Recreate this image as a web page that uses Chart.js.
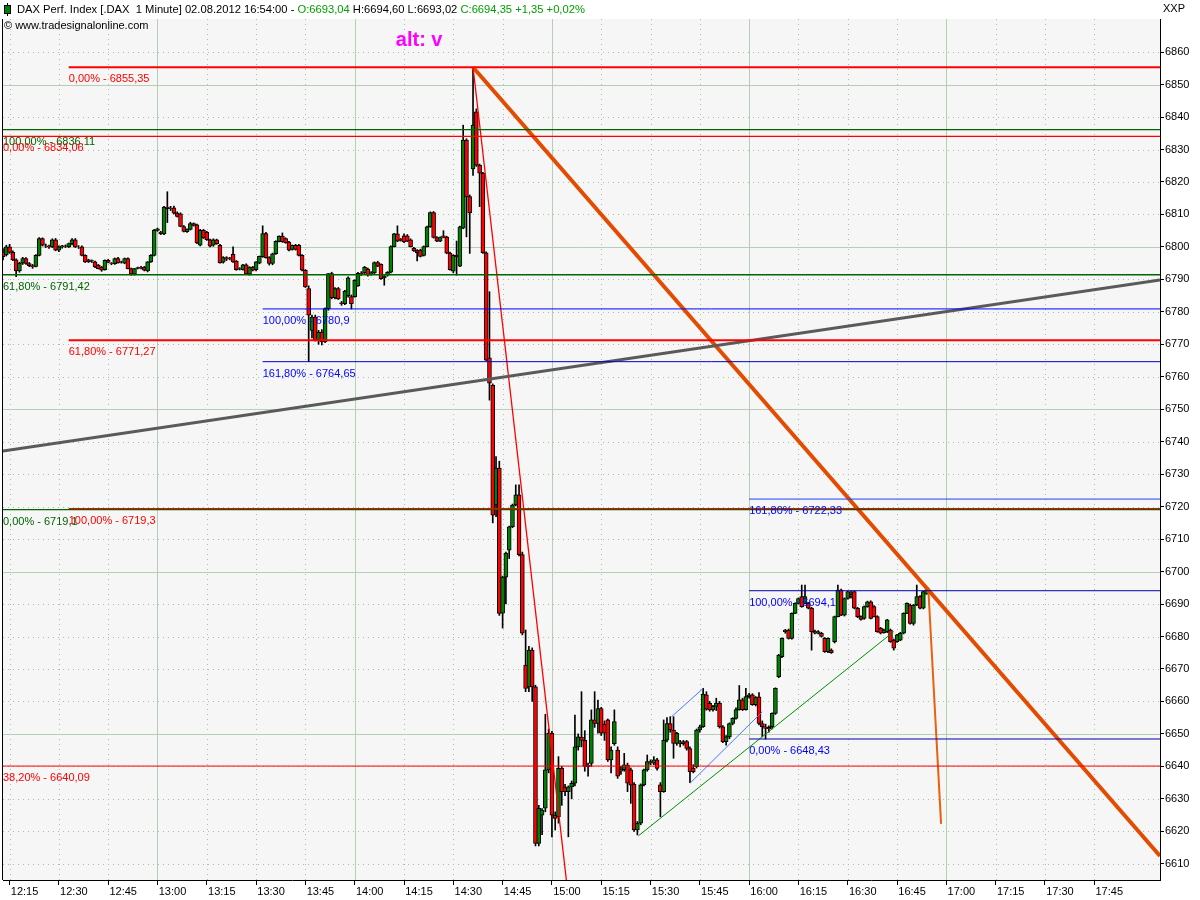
<!DOCTYPE html>
<html>
<head>
<meta charset="utf-8">
<script src="https://cdn.jsdelivr.net/npm/chart.js@4.4.0/dist/chart.umd.min.js"></script>
<style>
  html, body { margin: 0; padding: 0; background: #fff; }
  #wrap { width: 1200px; height: 900px; }
</style>
</head>
<body>
<div id="wrap"><canvas id="stats" width="1200" height="900"></canvas></div>
<script>
// first bar is 12:13, one bar per minute
var firstBar = "12:13";

// [open, high, low, close]
var ohlc = [
  // 12:13
  [6798.5,6799.5,6796,6797],[6797.5,6800.5,6797.2,6800],[6800,6800.8,6798,6798.3],[6798.3,6798.8,6795.8,6796],
  [6796,6796.3,6790.8,6792.6],[6792.6,6795.3,6792.2,6795],[6795,6796.8,6794.6,6796.4],[6796.4,6796.7,6794.6,6794.9],
  [6794.9,6795.2,6793.9,6794.2],[6794.2,6794.6,6793.4,6793.8],[6794,6797.6,6793.8,6797.4],[6797.4,6802.9,6797.2,6802.6],
  [6802.6,6802.8,6800.3,6800.5],[6800.3,6800.9,6799.8,6800.2],[6800.2,6800.6,6799.5,6800],[6800,6802.5,6799.8,6802.2],
  [6802.2,6802.6,6798.8,6799],[6799,6800.3,6798.5,6800],[6800,6800.5,6799.6,6800.3],[6800.3,6800.6,6799.8,6800.2],
  [6800,6801.2,6799.8,6801],[6801,6802.6,6800.6,6802.2],[6802.2,6802.6,6799.8,6800],[6800,6800.4,6799.5,6800],
  [6800,6800.3,6797.2,6797.4],[6797.4,6797.6,6795.2,6795.4],[6796,6796.2,6795.2,6795.4],[6795.6,6796,6795.2,6795.8],
  [6795.4,6795.6,6793.6,6793.8],[6794.4,6794.6,6793.2,6793.3],[6793.8,6794,6792.5,6792.8],[6793,6796,6792.8,6795.9],
  [6795.9,6796.2,6795.1,6795.2],[6794.9,6795.2,6794.5,6794.8],[6794.8,6796.6,6794.6,6796.4],[6796.4,6796.8,6795,6795.1],
  [6795.3,6795.6,6795,6795.4],[6795,6796.6,6794.8,6796.4],[6796.4,6796.6,6793.2,6793.3],[6793.3,6793.5,6791.3,6791.6],
  [6791.6,6793.4,6791.3,6793.3],[6793.4,6793.8,6793.2,6793.6],[6793.6,6794,6793.2,6793.5],[6793.8,6794,6792.6,6792.8],
  [6792.6,6795.5,6792.3,6795.4],[6795.4,6797.6,6795.2,6797.4],[6797.4,6805.4,6797.2,6805.2],
  // 13:00
  [6805.1,6805.8,6804.8,6805.6],[6804.6,6804.8,6803.8,6804],[6804,6812.5,6803.8,6812.3],[6812.3,6817,6807.5,6811.8],
  [6811.8,6812.5,6811.2,6811.9],[6812,6812.6,6810.2,6810.4],[6810.4,6810.8,6809.2,6809.4],[6810.2,6810.5,6806.2,6806.3],
  [6806.3,6806.6,6804.6,6804.8],[6804.7,6805.6,6804.5,6805.4],[6805.4,6807.6,6805.2,6807.2],[6807.2,6807.4,6806.4,6806.6],
  [6806.8,6807,6801,6801.2],[6800.5,6805.4,6800.3,6805.1],[6805.1,6805.4,6802.6,6802.8],[6804.5,6804.8,6802,6802.2],
  [6802.2,6802.4,6800,6800.2],[6800.5,6802.5,6800.2,6802.2],[6802.2,6802.4,6800.8,6801],[6800.5,6800.8,6795,6795.1],
  [6795.3,6797,6795,6796.7],[6796.7,6797,6795.8,6796.2],[6796.5,6796.8,6796,6796.4],[6797.7,6800,6795.2,6795.4],
  [6795.6,6795.8,6792.8,6793],[6793.2,6793.6,6792.9,6793.3],[6793,6794.6,6792.8,6794.5],[6794.5,6794.8,6791.5,6791.6],
  [6791.6,6793.9,6791.3,6793.8],[6793.8,6794,6792.6,6792.8],[6793,6795.5,6792.6,6795.4],[6795,6797.2,6794.8,6797.1],
  [6797,6806.5,6796.8,6804.1],[6804.1,6804.5,6796.5,6796.7],[6796.7,6797,6794.4,6794.9],[6794.9,6798.1,6794.5,6797.9],
  [6797.9,6801.9,6797.7,6801.7],[6801.7,6803.4,6801.5,6803.3],[6803.3,6804.3,6801.4,6801.6],[6802.6,6802.8,6801.1,6801.3],
  [6801.5,6801.7,6798.8,6799],[6799.2,6800.6,6799,6800.5],[6800.5,6800.8,6799,6799.2],[6800.5,6800.8,6797.2,6797.4],
  [6797.4,6797.6,6792.6,6792.8],[6792.8,6793,6787.5,6787.7],[6787.2,6788,6764.65,6779],[6774.3,6779,6772,6778.4],
  [6778.4,6779,6771,6771.3],[6771.3,6774.3,6770,6773.8],[6773.8,6774.5,6769.8,6770.8],[6770.8,6781.2,6770.5,6781],
  [6781,6791.8,6780.5,6791.8],[6791.8,6792.2,6784,6784.4],[6784.4,6787.5,6784,6787.2],[6787.2,6787.5,6783.8,6784],
  [6782.8,6783.2,6782,6782.5],[6782.5,6786.6,6782.2,6786.4],[6785,6790.8,6784.5,6790.5],[6784.7,6785.2,6780.9,6782.5],
  [6784.7,6789.9,6784.5,6789.7],
  // 14:01
  [6788,6792.2,6787.8,6791.9],[6791.9,6792.4,6791.2,6791.5],[6792,6794,6791.8,6793.7],[6793.2,6793.5,6791,6791.3],
  [6791.5,6792.4,6791.3,6792],[6792,6795.4,6791.8,6795.2],[6795.2,6795.6,6793.9,6794.1],[6794.6,6794.8,6790,6790.2],
  [6790.5,6791.2,6788.2,6791],[6791.3,6792.4,6791,6792.2],[6792.2,6800.3,6792,6800.1],[6800.1,6804.2,6800,6804],
  [6804,6806.5,6801.6,6801.8],[6802.3,6802.6,6801.8,6802],[6803.4,6804,6801.3,6801.5],[6803.4,6803.8,6801.6,6801.8],
  [6802.2,6802.5,6800,6800.1],[6799.6,6799.9,6798.6,6798.8],[6798.9,6799.2,6795.7,6798.2],[6799,6799.3,6796.9,6797.1],
  [6797.4,6800.3,6797.2,6800.1],[6800.1,6806.4,6800,6806.2],[6806.2,6810.8,6806,6810.6],[6810.6,6810.9,6802.7,6802.9],
  [6802.9,6803.2,6801.6,6801.8],[6801.8,6803.1,6801.6,6802.9],[6803.4,6805,6802.8,6802.9],[6803,6803.3,6797.9,6798.1],
  [6798.1,6798.4,6792.8,6793],[6792.5,6797.6,6792,6797.4],[6797.4,6801.8,6791.3,6797],[6794.1,6806.4,6793.9,6806.2],
  [6805.8,6837.5,6805.6,6832.9],[6832.9,6833.3,6803.1,6815.4],[6815.5,6816,6798,6810.5],[6824,6855.35,6822,6837.5],
  [6841.6,6842.5,6824.8,6825.2],[6825.2,6825.5,6812.4,6822.7],[6822.7,6823,6798,6798.2],[6798.2,6798.5,6765,6765.1],
  [6765.8,6786.2,6752.8,6758],[6757.4,6757.8,6715,6717.4],[6720.5,6735.4,6716.9,6731.9],[6731.9,6734,6686.5,6687.1],
  [6687.2,6698.6,6682.6,6698.3],[6698.3,6706,6690,6705.7],[6706.6,6714,6704,6713.8],[6713.8,6720.8,6713.5,6720.5],
  [6720.5,6726.7,6720.2,6723.6],[6723.6,6726.7,6704.8,6705.2],[6705.2,6706,6680.5,6681],[6671.2,6682,6663,6664],
  [6664.5,6677,6663,6675.8],[6675.8,6676.5,6660,6664.5],[6664.5,6665,6615.5,6616.3],[6616.3,6628,6615.5,6627.1],
  [6625,6627,6619,6626.5],[6627.1,6656,6626,6638.9],[6638.9,6651.5,6638,6650.2],[6650.2,6650.8,6618.3,6625],
  // 15:01
  [6625,6626,6620.4,6624],[6624.5,6643,6622.5,6639.4],[6639.4,6640,6628,6632.2],[6633.5,6634.5,6631,6632.2],
  [6632.2,6634,6618.3,6633.7],[6633.7,6635.5,6630,6634.8],[6634.8,6655.8,6634,6646],[6646,6650,6645,6649.1],
  [6649,6663,6646,6648],[6648,6651,6638.5,6640],[6640.4,6641,6637,6639.9],[6640.9,6657.4,6640,6654.3],
  [6654.3,6663,6652,6653.2],[6653.2,6660.4,6650.2,6657.8],[6657.8,6658.2,6649.5,6650.2],[6653,6654,6648,6650.2],
  [6654.3,6654.6,6641.5,6642],[6642,6646,6638,6645],[6647,6657.4,6646.5,6653.8],[6645,6646,6636.3,6637],
  [6639,6640,6637.5,6638.5],[6639,6644,6638.5,6640.5],[6640.4,6641,6632.2,6634.8],[6638.9,6639.5,6628.6,6634.2],
  [6634.5,6635,6620,6620.4],[6620.4,6623,6618.9,6622.5],[6622.5,6634.6,6622,6634.3],[6634.3,6639.2,6634,6638.9],
  [6638.9,6643.5,6638.5,6641.5],[6641.5,6642,6640.5,6641],[6641,6643,6640.5,6642],[6642,6642.5,6638.8,6639.4],
  [6634.3,6635,6624.5,6632.2],[6632.2,6654.3,6632,6648.1],[6648.1,6655,6647.5,6653.2],[6653.2,6655.3,6650.5,6651.2],
  [6651.2,6655.3,6642.5,6647.1],[6647.1,6650.5,6646.5,6650.2],[6647.5,6648,6646,6647.1],[6647,6648,6646.5,6647.6],
  [6647.6,6648,6645,6645.5],[6645.5,6646,6635,6638.4],[6639.5,6640.5,6638,6638.4],[6639.9,6651.5,6639.5,6651.2],
  [6651.2,6652.7,6650.5,6652.2],[6652.2,6664,6652,6662.3],[6662,6663,6657.3,6657.6],[6659.4,6660,6657,6657.4],
  [6657.4,6658.8,6657,6658.5],[6658.5,6661,6657.2,6659.5],[6659.5,6660,6651.8,6652.2],[6652.2,6652.6,6647.3,6647.6],
  [6647.6,6649.5,6646.5,6649.1],[6649.1,6653.4,6648.5,6653.2],[6653.2,6655,6652.8,6654.8],[6654.8,6658,6654.5,6657.5],
  [6657.5,6664.9,6657.3,6660.5],[6660.5,6661,6657.2,6657.5],[6657.5,6664,6657.3,6661.5],[6661.5,6662.5,6661,6662],
  // 16:01
  [6662,6662.4,6658.8,6659],[6659,6661.5,6658.6,6661.2],[6661.4,6662.7,6652.8,6653.2],[6653.2,6654,6649.1,6652.2],
  [6652.2,6653,6648.43,6651.7],[6652,6652.5,6650.5,6651.5],[6652.2,6656.5,6651.5,6656.3],[6656.3,6664.2,6656,6664],
  [6667.6,6674.5,6667.3,6674.3],[6673.8,6679.6,6673.5,6679.4],[6681.5,6682.2,6681,6682],[6682,6682.3,6679.2,6679.4],
  [6679.4,6687.3,6679.2,6687.1],[6687.1,6690.4,6687,6690.2],[6690.2,6691.9,6690,6691.7],[6692.3,6695.85,6689,6689.2],
  [6690.2,6695.85,6690,6692.3],[6690.2,6690.5,6688.5,6688.7],[6688.7,6689,6675.8,6681.5],[6681.5,6682,6680.8,6681],
  [6681,6681.8,6680.8,6681.5],[6681,6681.3,6679.8,6680],[6679.4,6679.7,6675.1,6675.3],[6675.3,6679.6,6675,6679.4],
  [6675.8,6676.2,6674.8,6675],[6678.4,6686.3,6678,6686.1],[6686.1,6695.85,6686,6694.3],[6694.3,6694.6,6686.4,6686.6],
  [6686.6,6691.9,6686.3,6691.7],[6691.7,6693.9,6691.5,6693.8],[6693,6694,6691.8,6692.3],[6693.8,6694,6688.5,6688.7],
  [6688.7,6689,6685.8,6686.1],[6686.1,6686.4,6685,6685.3],[6685.6,6689.4,6685.3,6689.2],[6689.2,6690.9,6689,6690.7],
  [6690.7,6691,6685.4,6685.6],[6689.2,6689.5,6686,6686.1],[6686.1,6686.4,6681.3,6681.5],[6682.5,6682.8,6680.8,6681],
  [6681.2,6682.3,6681,6682],[6681.5,6685.3,6681.2,6685.1],[6682,6682.3,6678.2,6678.4],[6678.9,6679.2,6675.8,6676.4],
  [6678.4,6680.7,6678.2,6680.5],[6678.9,6681.3,6678.7,6681],[6681,6687.3,6680.8,6687.1],[6687.1,6690.4,6687,6690.2],
  [6689.7,6690,6683.8,6684],[6684,6689.9,6683.5,6689.7],[6689.7,6695.85,6689.5,6692.3],[6692.3,6692.6,6688.5,6688.7],
  [6688.7,6694,6688.5,6693.8],[6693.04,6694.6,6693.02,6694.35]
];

var timeTicks = ["12:15","12:30","12:45","13:00","13:15","13:30","13:45","14:00","14:15","14:30","14:45",
  "15:00","15:15","15:30","15:45","16:00","16:15","16:30","16:45","17:00","17:15","17:30","17:45"];

// retracement levels: price, start time, text
var levelPrice = [6855.35, 6836.11, 6834.06, 6791.42, 6780.9, 6771.27, 6764.65, 6719.1, 6719.3, 6722.33, 6694.1, 6648.43, 6640.09];
var levelFrom  = ["12:33", "12:13", "12:13", "12:13", "13:32", "12:33", "13:32", "12:13", "12:33", "16:00", "16:00", "16:00", "12:13"];
var levelText  = ["0,00% - 6855,35", "100,00% - 6836,11", "0,00% - 6834,06", "61,80% - 6791,42", "100,00% - 6780,9",
  "61,80% - 6771,27", "161,80% - 6764,65", "0,00% - 6719,1", "100,00% - 6719,3", "161,80% - 6722,33",
  "100,00% - 6694,1", "0,00% - 6648,43", "38,20% - 6640,09"];

// drawn trend lines: [time, price] pairs
var grayTrend   = [["12:13", 6737.1], ["18:05", 6789.8]];
var orangeTrend = [["14:36", 6855.35], ["18:05", 6612.4]];
var orangeTail  = [["16:54.5", 6695], ["16:58.4", 6622.3]];
var redDrop     = [["14:36", 6855.35], ["15:04.4", 6605]];
var blueUpper   = [["15:36.4", 6655.3], ["15:46", 6664]];
var blueLower   = [["15:42", 6634.8], ["16:04", 6656.8]];
var greenRise   = [["15:26.3", 6618.6], ["16:44", 6681.5]];

function toMin(s) { var p = s.split(":"); return +p[0] * 60 + parseFloat(p[1]); }
function fmt(m) { var h = Math.floor(m / 60), mm = Math.round(m % 60); return h + ":" + (mm < 10 ? "0" : "") + mm; }

var start = toMin(firstBar);
var wicks = ohlc.map(function (b, i) { return { x: start + i, y: [b[2], b[1]] }; });
var bodies = ohlc.map(function (b, i) { return { x: start + i, y: [b[0], b[3]] }; });
var bodyColors = ohlc.map(function (b) { return b[3] >= b[0] ? "#008000" : "#ff0000"; });

var levelStyle = [
  ["#ff0000", 2], ["#006400", 1.3], ["#ff0000", 1.3], ["#006400", 1.3], ["#0000ff", 1],
  ["#ff0000", 2], ["#0000cc", 1], ["#006400", 1.3], ["#ff0000", 2], ["#2040ff", 1],
  ["#0000aa", 1], ["#0000aa", 1], ["#ff0000", 1]
];
var levelTextColor = ["#ff0000", "#006400", "#ff0000", "#006400", "#0000ff", "#ff0000", "#0000ff",
  "#006400", "#ff0000", "#0000ff", "#0000ff", "#0000ff", "#ff0000"];

function seg(pts) { return pts.map(function (p) { return { x: toMin(p[0]), y: p[1] }; }); }
function lineSet(pts, color, width) {
  return { type: "line", data: pts, borderColor: color, borderWidth: width, pointRadius: 0,
    fill: false, tension: 0, order: 0 };
}

var datasets = [
  { type: "bar", data: wicks, backgroundColor: "#000", barThickness: 1, grouped: false, order: 3 },
  { type: "bar", data: bodies, backgroundColor: bodyColors, borderColor: "#000", borderWidth: 1,
    borderSkipped: false, barThickness: 4, grouped: false, order: 2 }
];
levelPrice.forEach(function (p, i) {
  datasets.push(lineSet([{ x: toMin(levelFrom[i]), y: p }, { x: 1085, y: p }], levelStyle[i][0], levelStyle[i][1]));
});
datasets.push(lineSet(seg(grayTrend), "#5a5a5a", 3));
datasets.push(lineSet(seg(redDrop), "#ff0000", 1.3));
datasets.push(lineSet(seg(blueUpper), "#4a78ff", 1));
datasets.push(lineSet(seg(blueLower), "#4a78ff", 1));
datasets.push(lineSet(seg(greenRise), "#009000", 1));
datasets.push(lineSet(seg(orangeTrend), "#e34b00", 4));
datasets.push(lineSet(seg(orangeTail), "#e86010", 2));

var FONT = '"Liberation Sans", Arial, sans-serif';

function gridLine(ctx, x1, y1, x2, y2, solid) {
  ctx.beginPath();
  ctx.strokeStyle = solid ? "#b6ceb6" : "#a6c0a6";
  ctx.setLineDash(solid ? [] : [1, 4]);
  ctx.moveTo(x1, y1); ctx.lineTo(x2, y2);
  ctx.stroke();
}

var backdrop = {
  id: "backdrop",
  beforeDraw: function (chart) {
    var ctx = chart.ctx, a = chart.chartArea, x = chart.scales.x, y = chart.scales.y;
    ctx.save();
    ctx.fillStyle = "#f6f6f6";
    ctx.fillRect(a.left, a.top, a.right - a.left, a.bottom - a.top);
    ctx.lineWidth = 1;
    x.ticks.forEach(function (t) {
      var px = Math.round(x.getPixelForValue(t.value)) + 0.5;
      gridLine(ctx, px, a.top, px, a.bottom, t.value % 60 === 0);
    });
    y.ticks.forEach(function (t) {
      var py = Math.round(y.getPixelForValue(t.value)) + 0.5;
      gridLine(ctx, a.left, py, a.right, py, t.value % 50 === 0);
    });
    ctx.restore();
  },
  afterDatasetsDraw: function (chart) {
    var ctx = chart.ctx, a = chart.chartArea, x = chart.scales.x, y = chart.scales.y;
    ctx.save();
    ctx.beginPath(); ctx.rect(a.left, a.top, a.right - a.left, a.bottom - a.top); ctx.clip();
    ctx.font = "11px " + FONT;
    ctx.textBaseline = "middle";
    ctx.textAlign = "left";
    levelPrice.forEach(function (p, i) {
      ctx.fillStyle = levelTextColor[i];
      ctx.fillText(levelText[i], x.getPixelForValue(toMin(levelFrom[i])), y.getPixelForValue(p) + 12);
    });
    ctx.font = "bold 20px " + FONT;
    ctx.fillStyle = "#ff00ff";
    ctx.fillText("alt: v", x.getPixelForValue(852.5), y.getPixelForValue(6863.7));
    ctx.restore();
  },
  afterDraw: function (chart) {
    var ctx = chart.ctx, a = chart.chartArea;
    ctx.save();
    // left frame line
    ctx.fillStyle = "#000";
    ctx.fillRect(a.left - 1, a.top, 1, a.bottom - a.top);
    // little candle icon
    ctx.fillRect(7, 3, 1, 13);
    ctx.fillRect(4, 5, 7, 9);
    ctx.fillStyle = "#008000";
    ctx.fillRect(5, 6, 5, 7);
    ctx.font = "11.2px " + FONT;
    ctx.textBaseline = "middle";
    var parts = [
      ["DAX Perf. Index [.DAX  1 Minute] 02.08.2012 16:54:00 - ", "#000"],
      ["O:6693,04 ", "#00a000"],
      ["H:6694,60 L:6693,02 ", "#000"],
      ["C:6694,35 +1,35 +0,02%", "#00a000"]
    ];
    var px = 17;
    parts.forEach(function (p) {
      ctx.fillStyle = p[1];
      ctx.fillText(p[0], px, 10);
      px += ctx.measureText(p[0]).width;
    });
    ctx.font = "11px " + FONT;
    ctx.fillStyle = "#000";
    ctx.fillText("\u00a9 www.tradesignalonline.com", 4, 26);
    ctx.fillText("XXP", 1163, 9);
    ctx.restore();
  }
};

new Chart("stats", {
  type: "bar",
  data: { datasets: datasets },
  options: {
    responsive: false,
    animation: false,
    events: [],
    layout: { padding: { left: 3, top: 19, right: 0, bottom: 0 } },
    plugins: { legend: { display: false }, tooltip: { enabled: false } },
    scales: {
      x: {
        type: "linear", min: 733, max: 1085, offset: false,
        afterBuildTicks: function (s) { s.ticks = timeTicks.map(function (t) { return { value: toMin(t) }; }); },
        afterFit: function (s) { s.height = 20; s.paddingLeft = 0; s.paddingRight = 0; },
        grid: { drawOnChartArea: false, drawTicks: true, tickLength: 5, tickColor: "#000", offset: false },
        border: { color: "#000", width: 1 },
        ticks: { callback: function (v) { return fmt(v); }, autoSkip: false, maxRotation: 0, padding: 0,
          labelOffset: 15, color: "#000", font: { family: FONT, size: 11 } }
      },
      y: {
        type: "linear", position: "right", min: 6605, max: 6870.2,
        afterBuildTicks: function (s) { s.ticks = s.ticks.filter(function (t) { return t.value <= 6860; }); },
        afterFit: function (s) { s.width = 40; s.paddingTop = 0; s.paddingBottom = 0; },
        grid: { drawOnChartArea: false, drawTicks: true, tickLength: 4, tickColor: "#000" },
        border: { color: "#000", width: 1 },
        ticks: { stepSize: 10, includeBounds: false, padding: 1, color: "#000",
          callback: function (v) { return String(v); },
          font: { family: FONT, size: 11 } }
      }
    }
  },
  plugins: [backdrop]
});
</script>
</body>
</html>
